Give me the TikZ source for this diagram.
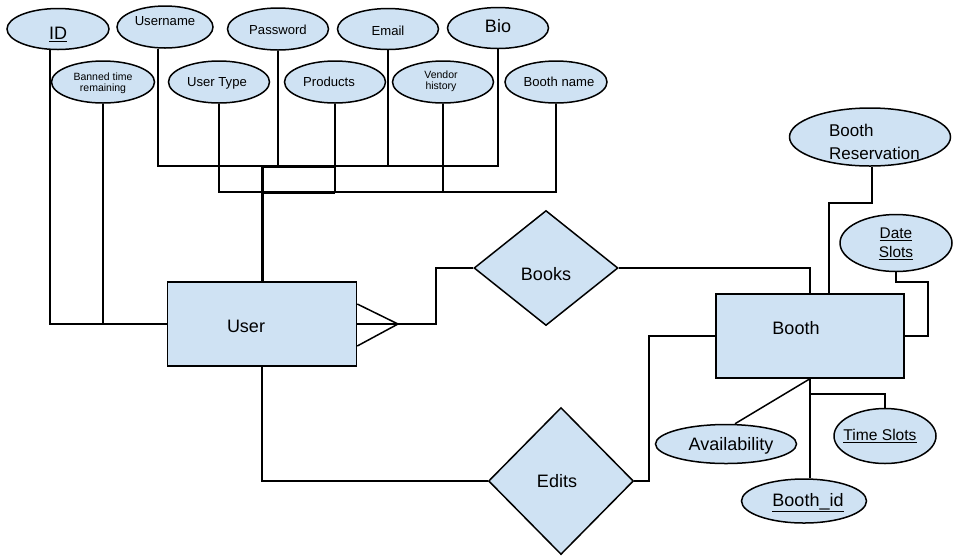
\documentclass[tikz,border=0pt]{standalone}
\usepackage{fontspec}
\setmainfont{Liberation Sans}
\usetikzlibrary{shapes.geometric}
\definecolor{erblue}{RGB}{207,226,243}
\begin{document}
\begin{tikzpicture}[x=1pt,y=-1pt,
  attr/.style={ellipse, draw, fill=erblue, line width=1.5pt, inner sep=0pt},
  ent/.style={rectangle, draw, fill=erblue, line width=1.5pt, inner sep=0pt},
  rel/.style={diamond, draw, fill=erblue, line width=1.5pt, inner sep=0pt},
  conn/.style={line width=1.5pt},
  bold/.style={line width=3pt},
  t18/.style={font=\fontsize{18}{21}\selectfont, inner sep=0pt, text height=12.9pt, text depth=0pt},
  t13/.style={font=\fontsize{13.1}{15}\selectfont, inner sep=0pt, text height=9.4pt, text depth=0pt},
  t15/.style={font=\fontsize{15.6}{18}\selectfont, inner sep=0pt, text height=11.2pt, text depth=0pt},
  tsmall/.style={font=\fontsize{10.5}{11.3}\selectfont, inner sep=0pt, align=center},
  tres/.style={font=\fontsize{17}{23}\selectfont, inner sep=0pt, align=left},
  tdate/.style={font=\fontsize{15.4}{19}\selectfont, inner sep=0pt, align=center}
]
\useasboundingbox (0,0) rectangle (958,558);

% ---- attribute ellipses (top rows)
\node[attr, minimum width=102, minimum height=41] (id) at (58,29) {};
\node[attr, minimum width=96, minimum height=42] (username) at (165,27) {};
\node[attr, minimum width=101, minimum height=42] (password) at (278,29) {};
\node[attr, minimum width=101, minimum height=41] (email) at (388,29) {};
\node[attr, minimum width=101, minimum height=41] (bio) at (498,28) {};
\node[attr, minimum width=103, minimum height=42] (banned) at (103,82) {};
\node[attr, minimum width=101, minimum height=42] (usertype) at (219,82) {};
\node[attr, minimum width=101, minimum height=42] (products) at (335,82) {};
\node[attr, minimum width=101, minimum height=42] (vendor) at (443,82) {};
\node[attr, minimum width=102, minimum height=42] (boothname) at (556,82) {};

% ---- entities and relations
\node[ent, minimum width=189, minimum height=84] (user) at (262,324) {};
\node[rel, minimum width=144, minimum height=115] (books) at (546,268) {};
\node[rel, minimum width=145, minimum height=147] (edits) at (561,481) {};
\node[ent, minimum width=188, minimum height=84] (booth) at (810,336) {};

% ---- booth attributes
\node[attr, minimum width=161, minimum height=58] (boothres) at (870,137) {};
\node[attr, minimum width=112, minimum height=57] (dateslots) at (896,243) {};
\node[attr, minimum width=141, minimum height=39] (avail) at (726,444) {};
\node[attr, minimum width=102, minimum height=55] (timeslots) at (885,436) {};
\node[attr, minimum width=125, minimum height=44] (boothid) at (804,501) {};

% ---- texts
\node[t18] (idT) at (58,33.5) {\underline{ID}};
\node[t13] (usernameT) at (165,20.5) {Username};
\node[t13] (passwordT) at (278,29.5) {Password};
\node[t13] (emailT) at (388,31) {Email};
\node[t18] (bioT) at (498,26.5) {Bio};
\node[tsmall] (bannedT) at (103,83.5) {Banned time\\remaining};
\node[t13] (usertypeT) at (217,82) {User Type};
\node[t13] (productsT) at (329,82) {Products};
\node[tsmall] (vendorT) at (441,81.5) {Vendor\\history};
\node[t13] (boothnameT) at (559,82) {Booth name};
\node[t18] (userT) at (246,326) {User};
\node[t18] (booksT) at (546,274) {Books};
\node[t18] (editsT) at (557,481.5) {Edits};
\node[t18] (boothT) at (796,328.5) {Booth};
\node[tres] (boothresT) at (874.5,142) {Booth\\Reservation};
\node[tdate] (dateslotsT) at (896,244) {\underline{Date}\\\underline{Slots}};
\node[t18] (availT) at (731,444.5) {Availability};
\node[t15] (timeslotsT) at (880,435) {\underline{Time Slots}};
\node[t18] (boothidT) at (808,500) {\underline{Booth\_id}};

% ---- junction coordinates
\coordinate (top1) at (262,166);
\coordinate (top2) at (262,192);
\coordinate (cf) at (398,324);
\coordinate (bk) at (436,324);
\coordinate (br) at (829,203);
\coordinate (ds) at (928,282);
\coordinate (ed) at (649,336);
\coordinate (ts) at (810,394);

% ---- connectors: User attributes
\draw[conn] ([xshift=-8pt]id.south) |- (user.west);
\draw[conn] (banned.south) -- (banned.south |- user.west);
\draw[conn] ([xshift=-7pt]username.south) |- (bio.south |- top1) -- (bio.south);
\draw[conn] (password.south) -- (password.south |- top1);
\draw[conn] (email.south) -- (email.south |- top1);
\draw[conn] (usertype.south) |- (boothname.south |- top2) -- (boothname.south);
\draw[conn] (products.south) -- (products.south |- top2);
\draw[conn] (vendor.south) -- (vendor.south |- top2);
\draw[bold] (products.south |- top1) -| (user.north);
\draw[bold] (top2) -- (products.south |- top2);

% ---- User -- Books -- Booth (crow's foot at User)
\draw[conn] ([yshift=20pt]user.east) -- (cf) -- ([yshift=-22pt]user.east);
\draw[conn] (user.east) -- (bk) |- (books.west);
\draw[conn] (books.east) -| (booth.north);

% ---- User -- Edits -- Booth
\draw[conn] (user.south) |- (edits.west);
\draw[conn] (edits.east) -| (ed) -- (booth.west);

% ---- Booth attributes
\draw[conn] ([xshift=2pt]boothres.south) |- (br) -- (br |- booth.north);
\draw[conn] (dateslots.south) |- (ds) |- (booth.east);
\draw[conn] (booth.south) -- ([xshift=9pt]avail.north);
\draw[conn] (booth.south) -- (booth.south |- boothid.north);
\draw[conn] (ts) -| (timeslots.north);
\end{tikzpicture}
\end{document}
